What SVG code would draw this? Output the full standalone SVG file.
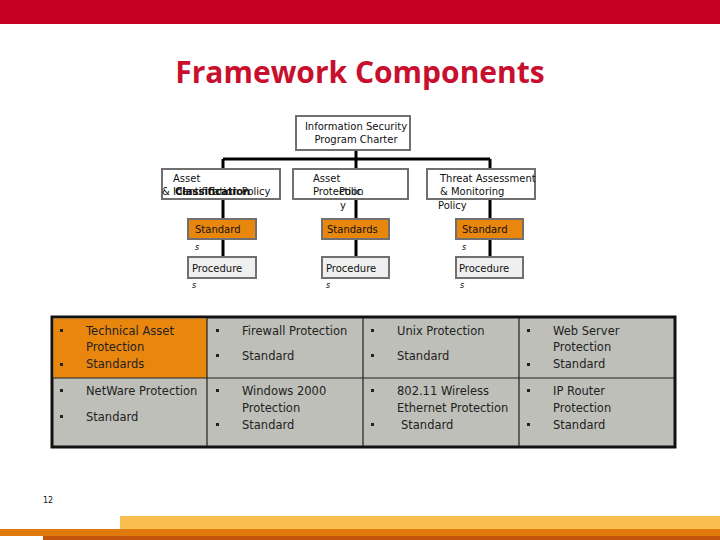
<svg xmlns="http://www.w3.org/2000/svg" width="720" height="540" viewBox="0 0 720 540">
<style>
.t{font-family:"DejaVu Sans",Verdana,sans-serif;font-size:10px;fill:#111}
.tb{font-family:"DejaVu Sans",Verdana,sans-serif;font-size:10px;font-weight:bold;fill:#111}
.s{font-family:"DejaVu Sans",Verdana,sans-serif;font-size:8px;font-style:italic;fill:#111}
.c{font-family:"DejaVu Sans",Verdana,sans-serif;font-size:11.5px;fill:#222}
.box{fill:#fff;stroke:#707070;stroke-width:2}
.std{fill:#E8860E;stroke:#707070;stroke-width:2}
.proc{fill:#EFEFEF;stroke:#707070;stroke-width:2}
.con{stroke:#000;stroke-width:3;fill:none}
.cell{fill:#BEBFB8;stroke:#222;stroke-width:1}
.bul{fill:#222}
</style>
<rect x="0" y="0" width="720" height="24" fill="#C50022"/>
<text x="360" y="83" text-anchor="middle" font-family="'Open Sans','DejaVu Sans',sans-serif" font-size="30" font-weight="bold" fill="#C8102E">Framework Components</text>

<g id="connectors">
<path class="con" d="M356 150V159M223 159H490M223 159V169M356 159V169M490 159V169"/>
<path class="con" d="M223 199V219M356 199V219M490 199V219"/>
<path class="con" d="M223 239V257M356 239V257M490 239V257"/>
</g>

<g id="charter">
<rect class="box" x="296" y="116" width="114" height="34"/>
<text class="t" x="356" y="130" text-anchor="middle">Information Security</text>
<text class="t" x="356" y="143" text-anchor="middle">Program Charter</text>
</g>
<g id="asset-classification">
<rect class="box" x="162" y="169" width="118" height="30"/>
<text class="t" x="173" y="182">Asset</text>
<text class="t" x="162" y="195">&amp; Identification Policy</text>
<text class="tb" x="175" y="195">Classification</text>
</g>
<g id="asset-protection">
<rect class="box" x="293" y="169" width="115" height="30"/>
<text class="t" x="313" y="182">Asset</text>
<text class="t" x="313" y="195">Protection</text>
<text class="t" x="339" y="195">Polic</text>
<text class="t" x="340" y="209">y</text>
</g>
<g id="threat-policy">
<rect class="box" x="427" y="169" width="108" height="30"/>
<text class="t" x="440" y="182">Threat Assessment</text>
<text class="t" x="440" y="195">&amp; Monitoring</text>
<text class="t" x="438" y="209">Policy</text>
</g>

<g id="standards-1">
<rect class="std" x="188" y="219" width="68" height="20"/>
<text class="t" x="195" y="233">Standard</text>
<text class="s" x="195" y="250">s</text>
</g>
<g id="standards-2">
<rect class="std" x="322" y="219" width="67" height="20"/>
<text class="t" x="327" y="233">Standards</text>
</g>
<g id="standards-3">
<rect class="std" x="456" y="219" width="67" height="20"/>
<text class="t" x="462" y="233">Standard</text>
<text class="s" x="462" y="250">s</text>
</g>
<g id="procedures-1">
<rect class="proc" x="188" y="257" width="68" height="21"/>
<text class="t" x="192" y="272">Procedure</text>
<text class="s" x="192" y="288">s</text>
</g>
<g id="procedures-2">
<rect class="proc" x="322" y="257" width="67" height="21"/>
<text class="t" x="326" y="272">Procedure</text>
<text class="s" x="326" y="288">s</text>
</g>
<g id="procedures-3">
<rect class="proc" x="456" y="257" width="67" height="21"/>
<text class="t" x="459" y="272">Procedure</text>
<text class="s" x="460" y="288">s</text>
</g>

<g id="table">
<rect x="52" y="317" width="623" height="130" fill="#BEBFB8" stroke="#111" stroke-width="3"/>
<rect x="53.5" y="318.5" width="153.5" height="59.5" fill="#E8860E"/>
<path d="M207 318V446M363 318V446M519 318V446M53 378H674" stroke="#222" stroke-width="1.2"/>
</g>
<g id="cell-technical">
<rect class="bul" x="60" y="329" width="3" height="3"/><rect class="bul" x="60" y="363" width="3" height="3"/>
<text class="c" x="86" y="335">Technical Asset</text>
<text class="c" x="86" y="351">Protection</text>
<text class="c" x="86" y="368">Standards</text>
</g>
<g id="cell-firewall">
<rect class="bul" x="216" y="329" width="3" height="3"/><rect class="bul" x="216" y="354" width="3" height="3"/>
<text class="c" x="242" y="335">Firewall Protection</text>
<text class="c" x="242" y="360">Standard</text>
</g>
<g id="cell-unix">
<rect class="bul" x="371" y="329" width="3" height="3"/><rect class="bul" x="371" y="354" width="3" height="3"/>
<text class="c" x="397" y="335">Unix Protection</text>
<text class="c" x="397" y="360">Standard</text>
</g>
<g id="cell-web">
<rect class="bul" x="527" y="329" width="3" height="3"/><rect class="bul" x="527" y="363" width="3" height="3"/>
<text class="c" x="553" y="335">Web Server</text>
<text class="c" x="553" y="351">Protection</text>
<text class="c" x="553" y="368">Standard</text>
</g>
<g id="cell-netware">
<rect class="bul" x="60" y="389" width="3" height="3"/><rect class="bul" x="60" y="415" width="3" height="3"/>
<text class="c" x="86" y="395">NetWare Protection</text>
<text class="c" x="86" y="421">Standard</text>
</g>
<g id="cell-windows">
<rect class="bul" x="216" y="389" width="3" height="3"/><rect class="bul" x="216" y="423" width="3" height="3"/>
<text class="c" x="242" y="395">Windows 2000</text>
<text class="c" x="242" y="412">Protection</text>
<text class="c" x="242" y="429">Standard</text>
</g>
<g id="cell-wireless">
<rect class="bul" x="371" y="389" width="3" height="3"/><rect class="bul" x="371" y="423" width="3" height="3"/>
<text class="c" x="397" y="395">802.11 Wireless</text>
<text class="c" x="397" y="412">Ethernet Protection</text>
<text class="c" x="401" y="429">Standard</text>
</g>
<g id="cell-router">
<rect class="bul" x="527" y="389" width="3" height="3"/><rect class="bul" x="527" y="423" width="3" height="3"/>
<text class="c" x="553" y="395">IP Router</text>
<text class="c" x="553" y="412">Protection</text>
<text class="c" x="553" y="429">Standard</text>
</g>

<text x="43" y="503" font-family="'DejaVu Sans',sans-serif" font-size="8" fill="#111">12</text>
<rect x="120" y="516" width="600" height="13" fill="#F8BE50"/>
<rect x="0" y="529" width="720" height="7" fill="#E07A0C"/>
<rect x="43" y="536" width="677" height="4" fill="#C4540C"/>
</svg>
